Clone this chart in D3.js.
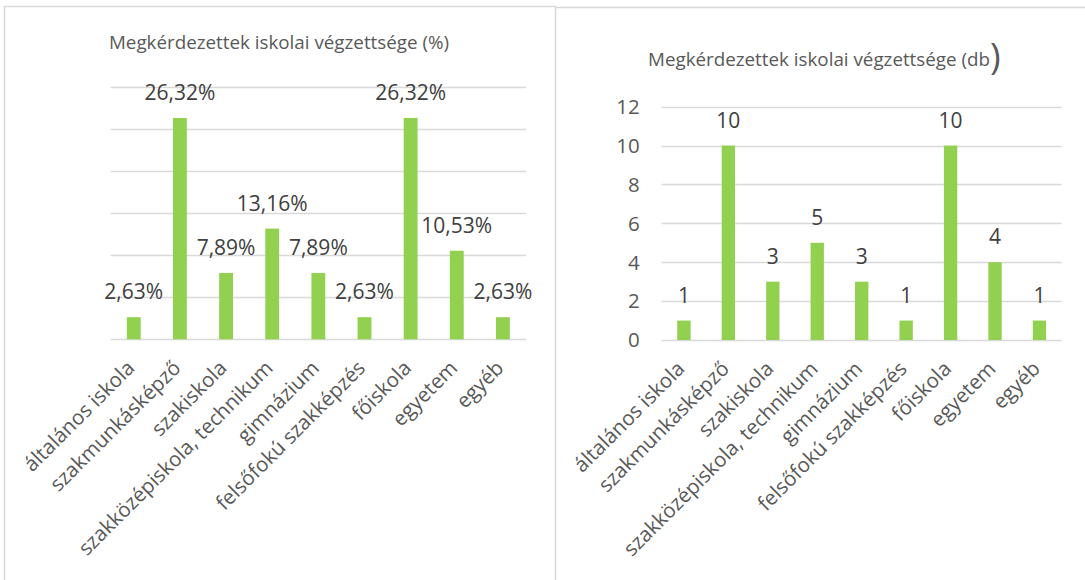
<!DOCTYPE html>
<html>
<head>
<meta charset="utf-8">
<script src="https://cdn.jsdelivr.net/npm/d3@7"></script>
<style>
  body { margin: 0; background: #fff; }
  svg { display: block; font-family: "Open Sans", sans-serif; }
</style>
</head>
<body>
<svg id="chart" width="1085" height="580"></svg>
<script>
// data
const categories = ['általános iskola', 'szakmunkásképző', 'szakiskola', 'szakközépiskola, technikum',
                    'gimnázium', 'felsőfokú szakképzés', 'főiskola', 'egyetem', 'egyéb'];
const percentValues = [2.63, 26.32, 7.89, 13.16, 7.89, 2.63, 26.32, 10.53, 2.63];
const countValues = [1, 10, 3, 5, 3, 1, 10, 4, 1];
const percentTicks = [0, 5, 10, 15, 20, 25, 30];
const countTicks = [0, 2, 4, 6, 8, 10, 12];
const titles = ['Megkérdezettek iskolai végzettsége (%)', 'Megkérdezettek iskolai végzettsége (db'];

const huLocale = d3.formatLocale({ decimal: ',', thousands: ' ', grouping: [3], currency: ['', ' Ft'] });
const fmtPct = v => huLocale.format('.2f')(v) + '%';
const fmtInt = huLocale.format('d');

const svg = d3.select('#chart');

const GREEN = '#92d050';
const GRID = '#d9d9d9';
const TEXT = '#595959';
const LABEL = '#404040';

// panel borders
svg.append('path')
    .attr('d', 'M4.5,580 V6.5 H555.5 V580')
    .attr('fill', 'none').attr('stroke', GRID).attr('stroke-width', 1.6);
svg.append('path')
    .attr('d', 'M556,7.5 H1085')
    .attr('fill', 'none').attr('stroke', GRID).attr('stroke-width', 1.6);

function drawPanel(opts) {
    const { x0, x1, yTop, yBase, domainMax, ticks, values, fmt, showTicks,
            title, titleX, titleY, titleAnchor, bigParen } = opts;

    const x = d3.scaleBand().domain(categories).range([x0, x1]).paddingInner(0.7).paddingOuter(0.35);
    const y = d3.scaleLinear().domain([0, domainMax]).range([yBase, yTop]);

    const g = svg.append('g');

    // gridlines
    g.selectAll('line.grid').data(ticks).join('line')
        .attr('class', 'grid')
        .attr('x1', x0).attr('x2', x1)
        .attr('y1', d => Math.round(y(d)) + 0.5).attr('y2', d => Math.round(y(d)) + 0.5)
        .attr('stroke', GRID).attr('stroke-width', 1.5);

    if (showTicks) {
        g.selectAll('text.tick').data(ticks).join('text')
            .attr('class', 'tick')
            .attr('x', x0 - 22).attr('y', d => y(d))
            .attr('dy', '0.36em')
            .attr('text-anchor', 'end')
            .attr('fill', TEXT).attr('font-size', 20.5)
            .text(d => d);
    }

    // bars
    g.selectAll('rect.bar').data(values).join('rect')
        .attr('class', 'bar')
        .attr('x', (d, i) => x(categories[i]))
        .attr('width', x.bandwidth())
        .attr('y', d => y(d))
        .attr('height', d => yBase - y(d))
        .attr('fill', GREEN);

    // data labels
    g.selectAll('text.value').data(values).join('text')
        .attr('class', 'value')
        .attr('x', (d, i) => x(categories[i]) + x.bandwidth() / 2)
        .attr('y', d => y(d) - 18)
        .attr('text-anchor', 'middle')
        .attr('fill', LABEL).attr('font-size', 21)
        .text(fmt);

    // category labels, rotated
    g.selectAll('text.cat').data(categories).join('text')
        .attr('class', 'cat')
        .attr('text-anchor', 'end')
        .attr('transform', d => `translate(${x(d) + x.bandwidth() / 2 + 2},${yBase + 30}) rotate(-45)`)
        .attr('fill', TEXT).attr('font-size', 20.5)
        .text(d => d);

    const t = g.append('text')
        .attr('x', titleX).attr('y', titleY)
        .attr('text-anchor', titleAnchor)
        .attr('fill', TEXT).attr('font-size', 18.8);
    t.append('tspan').text(title);
    if (bigParen) t.append('tspan').attr('font-size', 36).attr('dy', 3).text(')');
}

drawPanel({
    x0: 110.7, x1: 526, yTop: 87, yBase: 339.3,
    domainMax: 30, ticks: percentTicks, values: percentValues, fmt: fmtPct,
    showTicks: false, title: titles[0], titleX: 279, titleY: 49, titleAnchor: 'middle'
});

drawPanel({
    x0: 661.7, x1: 1061.7, yTop: 106.7, yBase: 340,
    domainMax: 12, ticks: countTicks, values: countValues, fmt: fmtInt,
    showTicks: true, title: titles[1], titleX: 648, titleY: 66, titleAnchor: 'start', bigParen: true
});
</script>
</body>
</html>
